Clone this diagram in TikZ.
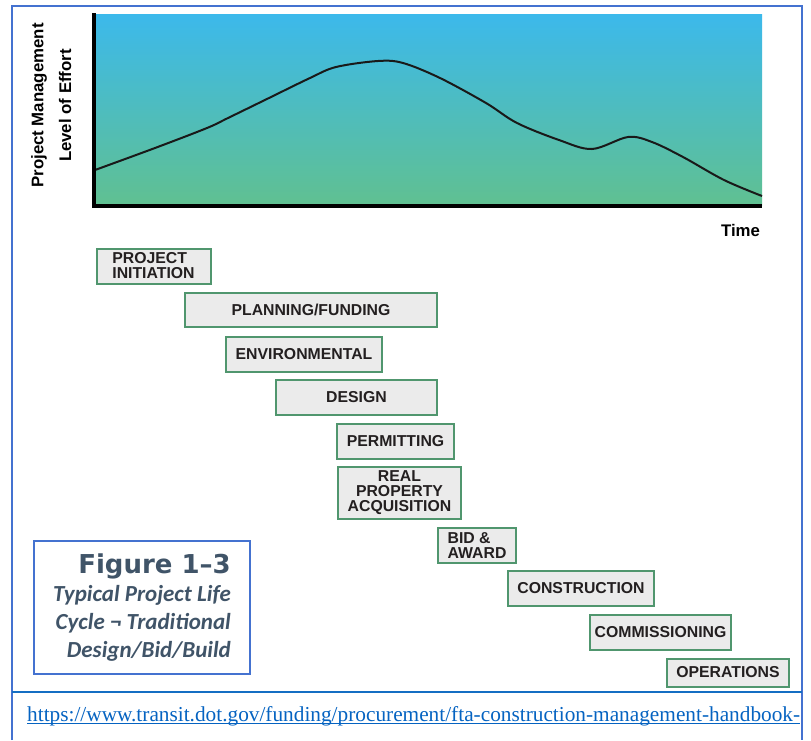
\documentclass[tikz,border=0pt]{standalone}
\usepackage{fontspec}
\setmainfont{Liberation Sans}
\newfontfamily\figfont{DejaVu Sans}
\newfontfamily\capfont{Carlito}
\newfontfamily\linkfont{Liberation Serif}
\definecolor{frameblue}{RGB}{68,114,208}
\definecolor{sepblue}{RGB}{20,110,195}
\definecolor{skytop}{RGB}{60,185,235}
\definecolor{skymid}{RGB}{76,186,200}
\definecolor{grassbot}{RGB}{96,192,145}
\definecolor{phasegreen}{RGB}{80,150,110}
\definecolor{phasefill}{RGB}{235,235,235}
\definecolor{phasetext}{RGB}{35,31,32}
\definecolor{captext}{RGB}{64,84,104}
\definecolor{linkblue}{RGB}{5,99,193}

\begin{document}
\begin{tikzpicture}[x=1pt,y=-1pt,
  phase/.style={draw=phasegreen,line width=2pt,fill=phasefill,text=phasetext,
    font=\fontsize{15.8}{15}\selectfont\bfseries,inner sep=1pt,align=center},
  axlabel/.style={font=\fontsize{16.8}{18}\selectfont\bfseries,inner sep=0pt},
  capframe/.style={draw=frameblue,line width=1.2pt,align=right,text=captext,
    font=\capfont\fontsize{23}{28}\selectfont\bfseries\itshape,inner sep=0pt}]
\useasboundingbox (0,0) rectangle (811,740);
% page frame
\draw[frameblue,line width=1.5pt] (12,740) -- (12,6) -- (802,6) -- (802,740);
\draw[sepblue,line width=1.2pt] (12,692) -- (802,692);
% effort chart
\shade[top color=skytop,middle color=skymid,bottom color=grassbot] (93,14) rectangle (762,205);
\draw[line width=2pt,black!90,line join=round] plot[smooth,tension=0.55] coordinates {
  (95,170) (155,148) (207,128) (228,118) (269,98) (310,78) (336,67) (378,61)
  (403,63) (440,78) (486,103) (517,123) (559,140) (592,149) (628,137)
  (652,142) (683,157) (724,180) (762,196)};
\draw[line width=4.5pt] (94,13) -- (94,206) -- (762,206);
\node[axlabel,rotate=90] (pmlabel) at (39,105.5) {Project Management};
\node[axlabel,rotate=90] (effort) at (65,105.5) {Level of Effort};
\node[axlabel] (time) at (740.5,230) {Time};
% phases
\node[phase,align=left,minimum width=114,minimum height=35] (init) at (153.5,266) {PROJECT\\INITIATION};
\node[phase,minimum width=252,minimum height=34] (plan) at (311,310) {PLANNING/FUNDING};
\node[phase,minimum width=156,minimum height=35] (env) at (304,354) {ENVIRONMENTAL};
\node[phase,minimum width=161,minimum height=35] (design) at (356.5,397.5) {DESIGN};
\node[phase,minimum width=117,minimum height=35] (permit) at (395.5,441) {PERMITTING};
\node[phase,minimum width=123,minimum height=52] (realprop) at (399.5,493) {REAL\\PROPERTY\\ACQUISITION};
\node[phase,align=left,minimum width=78,minimum height=35] (bid) at (477,545.5) {BID \&\\AWARD};
\node[phase,minimum width=146,minimum height=35] (constr) at (581,588.5) {CONSTRUCTION};
\node[phase,minimum width=141,minimum height=35] (commis) at (660.5,632.5) {COMMISSIONING};
\node[phase,minimum width=122,minimum height=28] (ops) at (728,672.5) {OPERATIONS};
% caption
\node[capframe,minimum width=216,minimum height=133] (figcap) at (142,607.5)
  {{\figfont\fontsize{26}{28}\selectfont\bfseries\upshape Figure 1–3}\\
   Typical Project Life\\Cycle ¬ Traditional\\Design/Bid/Build};
% source link
\begin{scope}
\clip (12,692) rectangle (802,740);
\node[anchor=base west,inner sep=0pt,text=linkblue,font=\linkfont\fontsize{21.3}{24}\selectfont] (link) at (27,721)
  {https://www.transit.dot.gov/funding/procurement/fta-construction-management-handbook-};
\draw[linkblue,line width=1pt] ([yshift=-2pt]link.base west) -- ([yshift=-2pt]link.base east);
\end{scope}
\end{tikzpicture}
\end{document}
